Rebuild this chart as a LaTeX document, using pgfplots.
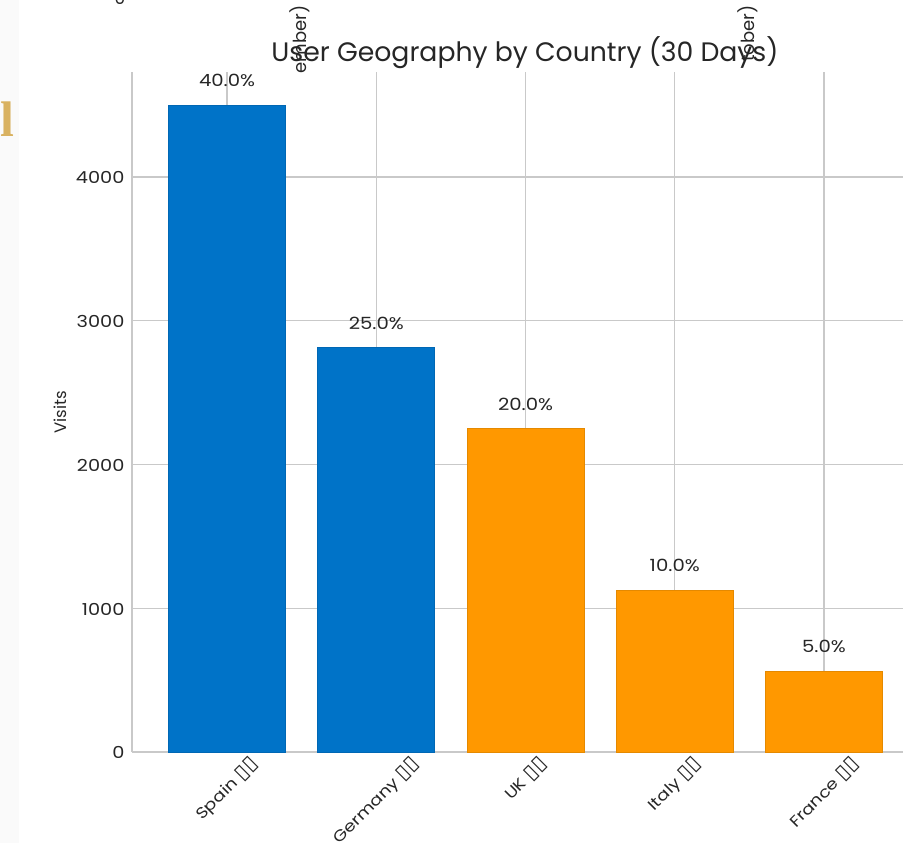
\documentclass[border=0pt]{standalone}
\usepackage{pgfplots}
\pgfplotsset{compat=1.18}
\usepackage{graphicx}
\usepackage{fontspec}
\setmainfont{Poppins}
\newfontfamily\wide[FakeStretch=1.17]{Poppins}
\newfontfamily\sym{DejaVu Sans}
\newfontfamily\goldfont{Liberation Serif}
\definecolor{barblue}{HTML}{0073C8}
\definecolor{barorange}{HTML}{FF9800}
\definecolor{gridc}{HTML}{C9C9C9}
\definecolor{goldc}{HTML}{D9B261}
\definecolor{txt}{HTML}{262626}
\newcommand{\boxes}{{\sym\fontsize{21}{21}\selectfont ▯▯}}
\newcommand{\xl}[1]{\rotatebox{45}{#1 \boxes}}
\begin{document}
\begin{tikzpicture}
\useasboundingbox (0pt,0pt) rectangle (903pt,843pt);
\clip (0pt,0pt) rectangle (903pt,843pt);
\fill[black!2] (0pt,0pt) rectangle (19pt,843pt);
\node[anchor=base,text=txt,font=\fontsize{17}{17}\selectfont] at (120pt,838pt) {0};
\node[anchor=base east,inner sep=0,text=goldc,font=\goldfont\bfseries\fontsize{50}{50}\selectfont] at (14.5pt,706pt) {l};
\begin{axis}[
  at={(132pt,91pt)},anchor=south west,
  scale only axis,width=786pt,height=680pt,
  xmin=-0.637,xmax=4.63,ymin=0,ymax=4730,
  axis x line*=bottom,axis y line*=left,
  axis line style={gridc,line width=1.2pt,-},
  xtick={0,1,2,3,4},
  xticklabels={\xl{Spain},\xl{Germany},\xl{UK},\xl{Italy},\xl{France}},
  ytick={0,1000,2000,3000,4000},
  major tick length=0pt,
  grid=major,
  grid style={gridc,line width=1.2pt},
  axis on top=false,
  ybar,bar width=117pt,
  bar shift=0pt,
  /pgf/number format/assume math mode=true,
  /pgf/number format/set thousands separator={},
  tick label style={text=txt,font=\wide\fontsize{16.5}{16.5}\selectfont},
  xticklabel style={anchor=north,yshift=-3pt,inner sep=0pt,font=\wide\fontsize{15.5}{15.5}\selectfont},
  yticklabel style={xshift=-4pt,yshift=-0.8pt},
  ylabel={Visits},
  ylabel style={text=txt,font=\fontsize{16.5}{16.5}\selectfont,at={(axis description cs:0,0.5)},yshift=72pt,anchor=center},
  title={User Geography by Country (30 Days)},
  title style={text=txt,font=\fontsize{26.7}{26.7}\selectfont,at={(axis description cs:0.5,1)},anchor=center,yshift=13pt},
  nodes near coords,
  point meta=explicit symbolic,
  every node near coord/.append style={text=txt,font=\wide\fontsize{16.8}{16.8}\selectfont,anchor=south,yshift=18pt,inner sep=0pt},
  clip=false,
]
\addplot[draw=barblue!90!black,line width=0.6pt,fill=barblue] table[meta=lab,row sep=\\] {
x y lab\\
0 4500 40.0\%\\
1 2812 25.0\%\\
};
\addplot[draw=barorange!90!black,line width=0.6pt,fill=barorange] table[meta=lab,row sep=\\] {
x y lab\\
2 2250 20.0\%\\
3 1125 10.0\%\\
4 563 5.0\%\\
};
\end{axis}
\node[rotate=90,anchor=east,text=txt,font=\fontsize{18}{18}\selectfont] at (300pt,841pt) {ember)};
\node[rotate=90,anchor=east,text=txt,font=\fontsize{18}{18}\selectfont] at (748pt,841pt) {tober)};
\end{tikzpicture}
\end{document}
